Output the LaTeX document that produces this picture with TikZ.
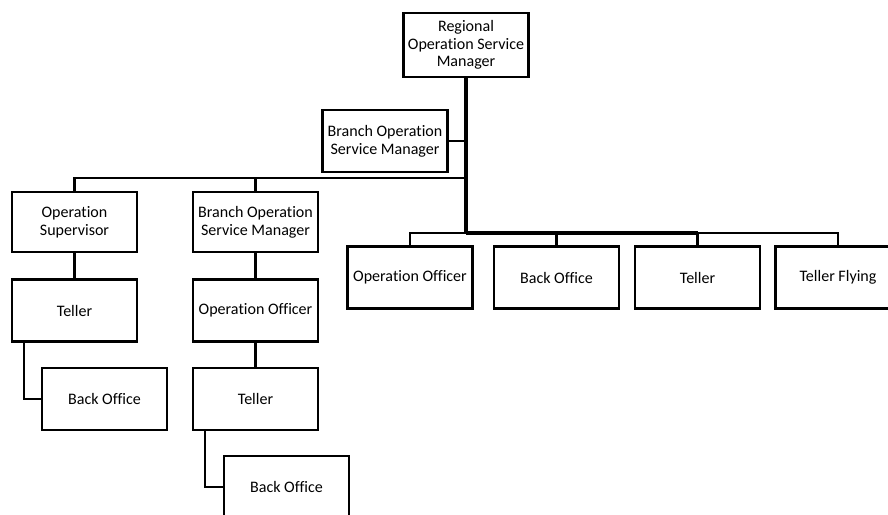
\documentclass[tikz,border=0pt]{standalone}
\usepackage{fontspec}
\setmainfont{Carlito}[Ligatures=NoCommon]
\usetikzlibrary{positioning, calc}

\begin{document}
\begin{tikzpicture}[x=0.025cm, y=-0.025cm,
    box/.style={draw, line width=1.7pt, minimum width=3.12cm, minimum height=1.55cm,
        inner sep=2pt, align=center, font=\fontsize{11.4}{12.6}\selectfont},
    link/.style={line width=1.5pt},
    trunk/.style={line width=2.6pt}]
    \useasboundingbox (0,0) rectangle (888,514);
    % top of the tree
    \node[box, minimum height=1.6cm] (reg) at (466,45) {Regional\\Operation Service\\Manager};
    \node[box] (bosmA) at (385,141) {Branch Operation\\Service Manager};
    % left branch
    \node[box, minimum height=1.5cm] (opsup) at (74.5,222) {Operation\\Supervisor};
    \node[box, minimum height=1.5cm] (bosmB) at (255.5,222) {Branch Operation\\Service Manager};
    \node[box] (tellerL) at (74.5,310.5) {Teller};
    \node[box] (opoffM) at (255.5,310.5) {Operation Officer};
    \node[box] (backL) at (104.5,399) {Back Office};
    \node[box] (tellerM) at (255.5,399) {Teller};
    \node[box] (backM) at (286.5,487) {Back Office};
    % right row
    \foreach \name/\x/\txt in {opoffR/410/Operation Officer, backR/556.5/Back Office,
        tellerR/697.5/Teller, flying/838/Teller Flying} {
        \node[box] (\name) at (\x,277.5) {\txt};
    }
    \coordinate (lbus) at (466,178);
    \coordinate (rbus) at (466,233);
    % connectors
    \draw[trunk] (reg.south) -- (rbus);
    \draw[link] (bosmA.east) -- (bosmA.east -| reg.south);
    \draw[link] (opsup.north) |- (lbus);
    \draw[link] (bosmB.north) -- (bosmB.north |- lbus);
    \draw[link] (opsup.south) -- (tellerL.north);
    \draw[link] (bosmB.south) -- (opoffM.north);
    \draw[link] (opoffM.south) -- (tellerM.north);
    \draw[link] ($(tellerL.south west)!0.1!(tellerL.south east)$) |- (backL.west);
    \draw[link] ($(tellerM.south west)!0.1!(tellerM.south east)$) |- (backM.west);
    \draw[link] (opoffR.north) |- (rbus) -| (flying.north);
    \foreach \name in {backR, tellerR} {
        \draw[link] (\name.north) -- (\name.north |- rbus);
    }
    \draw[trunk] (rbus) -- (rbus -| tellerR.north);
\end{tikzpicture}
\end{document}
